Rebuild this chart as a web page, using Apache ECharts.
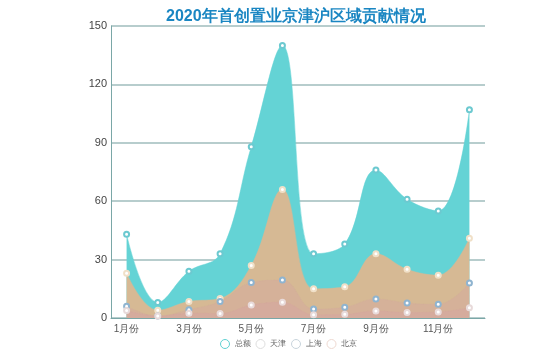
<!DOCTYPE html>
<html><head><meta charset="utf-8">
<script src="https://cdn.jsdelivr.net/npm/echarts@6/dist/echarts.min.js"></script>
<style>html,body{margin:0;padding:0;background:#fff}#c{width:558px;height:357px}</style>
</head><body><div id="c"></div>
<script>
var months = ['1月份','2月份','3月份','4月份','5月份','6月份','7月份','8月份','9月份','10月份','11月份','12月份'];
var total = [43, 8, 24, 33, 88, 140, 33, 38, 76, 61, 55, 107];
var beijing = [23, 4, 8.5, 10, 27, 66, 15, 16, 33, 25, 22, 41];
var shanghai = [6, 1, 4.3, 8.5, 18.2, 19.5, 4.6, 5.5, 9.8, 7.7, 7, 18];
var tianjin = [3.8, 1, 2.4, 2.3, 6.7, 8.1, 1.7, 1.9, 3.6, 2.8, 3.1, 5.3];
var yTicks = [0, 30, 60, 90, 120, 150];

var chart = echarts.init(document.getElementById('c'));
function s(name, data, color, area, z) {
  return {
    name: name, type: 'line', smooth: 0.4, data: data,
    symbol: 'emptyCircle', symbolSize: 5, z: z,
    itemStyle: {color: color, borderWidth: 1},
    lineStyle: {width: 0.5, color: area},
    areaStyle: {color: area, opacity: 1}
  };
}
chart.setOption({
  animation: false,
  title: {
    text: '2020年首创置业京津沪区域贡献情况', left: 161, top: 4,
    textStyle: {fontSize: 16, fontWeight: 'bold', color: '#1a86c2'}
  },
  legend: {
    bottom: 3, left: 215, itemWidth: 9, itemHeight: 9, itemGap: 5,
    icon: 'circle',
    data: [
      {name: '总额', itemStyle: {color: '#fff', borderColor: '#5fd0d2', borderWidth: 1}},
      {name: '天津', itemStyle: {color: '#fff', borderColor: '#ddd', borderWidth: 1}},
      {name: '上海', itemStyle: {color: '#fff', borderColor: '#c8d4dc', borderWidth: 1}},
      {name: '北京', itemStyle: {color: '#fff', borderColor: '#edd8d0', borderWidth: 1}}
    ],
    textStyle: {fontSize: 8, color: '#666'}
  },
  grid: {left: 111, right: 73, top: 26, bottom: 39},
  xAxis: {
    type: 'category', data: months, boundaryGap: true,
    axisLine: {lineStyle: {color: '#7aa7a7'}},
    axisTick: {alignWithLabel: true, length: 4, interval: function(i){return i % 2 === 1;}, lineStyle: {color: '#7aa7a7'}},
    axisLabel: {interval: 1, fontSize: 10, color: '#555', margin: 6}
  },
  yAxis: {
    type: 'value', min: yTicks[0], max: yTicks[yTicks.length-1], interval: 30,
    axisLine: {show: true, lineStyle: {color: '#7aa7a7'}},
    axisTick: {show: false},
    axisLabel: {fontSize: 11, color: '#444', margin: 4},
    splitLine: {lineStyle: {color: '#9fbcbc', width: 1.5}}
  },
  series: [
    s('总额', total, '#6cc9d0', '#64d3d5', 1),
    s('北京', beijing, '#f0e0c8', '#d6b994', 2),
    s('上海', shanghai, '#8fb4d0', 'rgba(212,168,160,0.45)', 3),
    s('天津', tianjin, '#e8dada', 'rgba(214,160,165,0.35)', 4)
  ]
});
</script></body></html>
